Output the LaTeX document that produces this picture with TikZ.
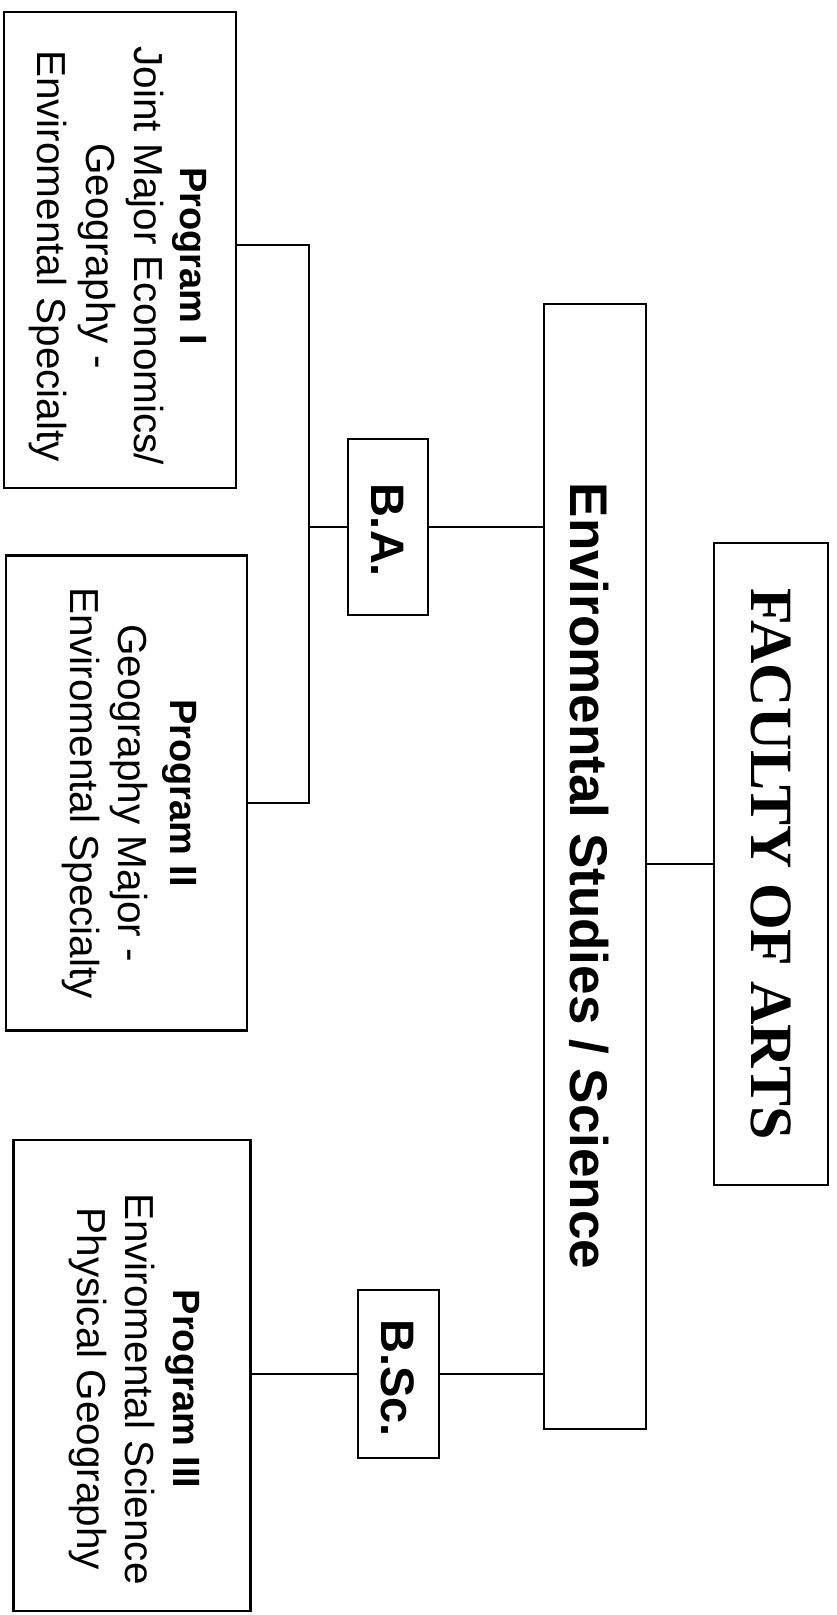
\documentclass[tikz,border=0pt]{standalone}
\usepackage{fontspec}
\setmainfont{Liberation Sans}
\newfontfamily\serifface{Liberation Serif}
\begin{document}
\begin{tikzpicture}[x=1pt,y=-1pt,
  box/.style={draw, line width=2.4pt, inner sep=0pt, rectangle},
  conn/.style={line width=1.8pt},
  lbl/.style={anchor=base, rotate=-90, inner sep=0pt},
  reg/.style={font=\fontsize{40.5}{46}\selectfont},
  bld/.style={font=\bfseries\fontsize{38}{46}\selectfont}]
\useasboundingbox (0,0) rectangle (837,1615);
\fill[white] (0,0) rectangle (837,1615);

% boxes
\node[box, minimum width=114pt, minimum height=642pt] (fac) at (771,864) {};
\node[box, minimum width=102pt, minimum height=1125pt] (env) at (595,866.5) {};
\node[box, minimum width=80pt, minimum height=176pt] (ba) at (388,527) {};
\node[box, minimum width=81pt, minimum height=168pt] (bsc) at (398.5,1374) {};
\node[box, minimum width=232pt, minimum height=476pt] (p1) at (120,250) {};
\node[box, minimum width=241pt, minimum height=475pt] (p2) at (126.5,793) {};
\node[box, minimum width=237pt, minimum height=471pt] (p3) at (132,1375.5) {};

% texts
\node[lbl, anchor=center, font=\serifface\bfseries\fontsize{60}{62}\selectfont] (tfac) at (fac.center) {FACULTY OF ARTS};
\node[lbl, font=\bfseries\fontsize{53}{60}\selectfont] (tenv) at (570,876) {Enviromental Studies / Science};
\node[lbl, font=\bfseries\fontsize{47}{50}\selectfont] (tba) at (371,530) {B.A.};
\node[lbl, font=\bfseries\fontsize{47}{50}\selectfont] (tbsc) at (381,1378) {B.Sc.};

\node[lbl, bld] (p1a) at (180,256) {Program I};
\node[lbl, reg] (p1b) at (134,256) {Joint Major Economics/};
\node[lbl, reg] (p1c) at (86,256) {Geography -};
\node[lbl, reg] (p1d) at (37,256) {Enviromental Specialty};

\node[lbl, bld] (p2a) at (170,793) {Program II};
\node[lbl, reg] (p2b) at (118,793) {Geography Major -};
\node[lbl, reg] (p2c) at (70,793) {Enviromental Specialty};

\node[lbl, bld] (p3a) at (173,1389) {Program III};
\node[lbl, reg] (p3b) at (125,1389) {Enviromental Science};
\node[lbl, reg] (p3c) at (77,1389) {Physical Geography};

% connectors
\coordinate (j1) at (309,245);
\coordinate (j2) at (309,803);
\draw[conn] (fac.west) -- (fac.west -| env.east);
\draw[conn] (ba.east) -- (ba.east -| env.west);
\draw[conn] (ba.west) -- (ba.west -| j1);
\draw[conn] (p1.east |- j1) -- (j1) -- (j2) -- (p2.east |- j2);
\draw[conn] (env.west |- bsc.east) -- (bsc.east);
\draw[conn] (bsc.west) -- (p3.east |- bsc.west);
\end{tikzpicture}
\end{document}
